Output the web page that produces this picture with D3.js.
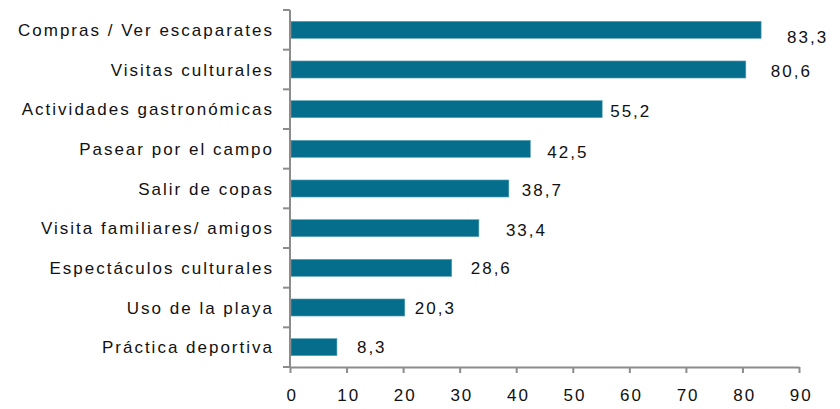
<!DOCTYPE html>
<html>
  <head>
    <meta charset="utf-8">
    <title>Actividades realizadas</title>
    <script src="https://d3js.org/d3.v7.min.js"></script>
    <style>
      body { margin: 0; background: #fff; }
      text { font-family: "Liberation Sans", Arial, sans-serif; font-size: 17px; fill: #111; letter-spacing: 2px; }
      .axis path, .axis line { stroke: #8c8c8c; stroke-width: 2px; }
    </style>
  </head>
  <body>
    <div id="chart"></div>
    <script>
      // Data
      const categories = [
        "Compras / Ver escaparates",
        "Visitas culturales",
        "Actividades gastronómicas",
        "Pasear por el campo",
        "Salir de copas",
        "Visita familiares/ amigos",
        "Espectáculos culturales",
        "Uso de la playa",
        "Práctica deportiva"
      ];
      const values = [83.3, 80.6, 55.2, 42.5, 38.7, 33.4, 28.6, 20.3, 8.3];
      const xTicks = [0, 10, 20, 30, 40, 50, 60, 70, 80, 90];

      // Label nudges (px) as placed in the original
      const labelGap = [26, 25, 8, 17, 13, 27, 19, 10, 20];
      const labelDy = [7, 1, 2, 3, 1, 2, 0, 0, 0];

      const margin = { top: 10, right: 41, bottom: 42, left: 290 };
      const width = 840 - margin.left - margin.right;
      const height = 409 - margin.top - margin.bottom;

      const svg = d3
        .select("#chart")
        .append("svg")
        .attr("width", 840)
        .attr("height", 409)
        .append("g")
        .attr("transform", `translate(${margin.left}, ${margin.top})`);

      const x = d3.scaleLinear().domain([0, 90]).range([0, width]);
      const y = d3.scaleBand().domain(categories).range([0, height]).paddingInner(0.57).paddingOuter(0.285);
      const yEdges = d3.scaleLinear().domain([0, categories.length]).range([0, height]);

      // Bars
      svg
        .selectAll("rect")
        .data(values)
        .enter()
        .append("rect")
        .attr("x", 1)
        .attr("y", (d, i) => y(categories[i]))
        .attr("width", (d) => x(d) - 1)
        .attr("height", y.bandwidth())
        .attr("fill", "#056e8d")
        .attr("stroke", "#5fa3b8")
        .attr("stroke-width", 0.6);

      // Value labels
      svg
        .selectAll(".val")
        .data(values)
        .enter()
        .append("text")
        .attr("class", "val")
        .attr("x", (d, i) => x(d) + labelGap[i])
        .attr("y", (d, i) => y(categories[i]) + y.bandwidth() / 2 + labelDy[i])
        .attr("dy", "0.36em")
        .text((d) => d3.format(".1f")(d).replace(".", ","));

      // Y axis: line with ticks at band edges, labels centred on bands
      const yAxis = svg.append("g").attr("class", "axis");
      yAxis.append("path").attr("d", `M0,${yEdges(0)}V${yEdges(categories.length)}`);
      yAxis
        .selectAll("line")
        .data(d3.range(categories.length + 1))
        .enter()
        .append("line")
        .attr("x1", -7)
        .attr("x2", 0)
        .attr("y1", (d) => yEdges(d))
        .attr("y2", (d) => yEdges(d));
      yAxis
        .selectAll("text")
        .data(categories)
        .enter()
        .append("text")
        .attr("x", -16)
        .attr("y", (d) => y(d) + y.bandwidth() / 2)
        .attr("dy", "0.36em")
        .attr("text-anchor", "end")
        .text((d) => d);

      // X axis
      const xAxis = svg
        .append("g")
        .attr("class", "axis")
        .attr("transform", `translate(0, ${height})`)
        .call(d3.axisBottom(x).tickValues(xTicks).tickSize(6).tickSizeOuter(0).tickPadding(16));
      xAxis.selectAll("text").attr("font-family", null).attr("font-size", null).attr("fill", null).attr("dx", "0.1em");
    </script>
  </body>
</html>
